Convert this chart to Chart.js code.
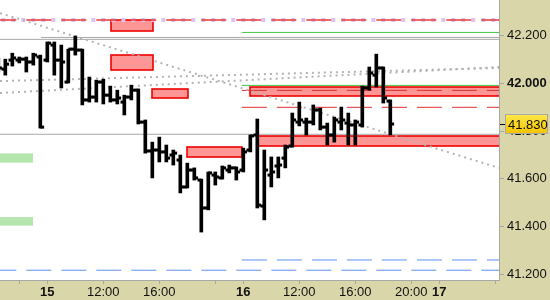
<!DOCTYPE html>
<html>
<head>
<meta charset="utf-8">
<script src="https://cdn.jsdelivr.net/npm/chart.js@4.4.1/dist/chart.umd.min.js"></script>
<style>
  html, body { margin: 0; padding: 0; background: #fff; }
</style>
</head>
<body>
<canvas id="grafico" width="550" height="300"></canvas>
<script>
// barras de 30 minutos, indice 0 = dia 15 08:00 (sesion 08:00-22:00)
const barIndex = [-7,-6,-5,-4,-3,-2,-1,0,1,2,3,4,5,6,7,8,9,10,11,12,13,14,15,16,17,18,19,20,21,22,23,24,25,26,27,28,29,30,31,32,33,34,35,36,37,38,39,40,41,42,43,44,45,46,47,48,49];
const openValues = [42.090,42.060,42.098,42.098,42.102,42.090,42.111,42.098,42.161,42.098,42.006,42.144,42.140,41.931,41.943,42.006,41.951,41.931,41.922,41.943,41.972,41.838,41.717,41.721,41.713,41.700,41.679,41.566,41.637,41.595,41.478,41.616,41.604,41.637,41.646,41.637,41.721,41.784,41.486,41.616,41.654,41.687,41.738,41.838,41.838,41.838,41.889,41.817,41.784,41.838,41.834,41.826,41.826,41.981,42.035,42.065,41.926];
const highValues = [42.107,42.102,42.127,42.111,42.111,42.127,42.119,42.174,42.174,42.161,42.144,42.199,42.144,42.027,42.014,42.018,41.989,41.972,41.951,41.993,41.977,41.847,41.754,41.775,41.742,41.721,41.700,41.666,41.646,41.599,41.629,41.629,41.654,41.658,41.650,41.729,41.784,41.851,41.721,41.692,41.692,41.742,41.876,41.922,41.855,41.910,41.897,41.834,41.859,41.901,41.876,41.847,41.989,42.069,42.123,42.069,41.931];
const lowValues = [42.048,42.035,42.073,42.086,42.048,42.077,41.813,42.090,42.035,41.981,42.002,42.119,41.910,41.922,41.922,41.914,41.922,41.914,41.868,41.931,41.830,41.708,41.604,41.671,41.671,41.658,41.541,41.562,41.595,41.377,41.470,41.574,41.599,41.625,41.595,41.629,41.713,41.478,41.428,41.566,41.604,41.646,41.733,41.822,41.784,41.826,41.805,41.742,41.754,41.805,41.742,41.742,41.817,41.972,41.985,41.918,41.784];
const closeValues = [42.065,42.081,42.107,42.102,42.090,42.119,41.817,42.169,42.098,42.090,42.144,42.140,41.931,41.943,42.006,41.951,41.931,41.939,41.943,41.972,41.838,41.717,41.721,41.713,41.687,41.708,41.566,41.637,41.604,41.478,41.625,41.608,41.646,41.646,41.629,41.713,41.780,41.490,41.637,41.629,41.658,41.733,41.847,41.847,41.838,41.889,41.817,41.784,41.847,41.847,41.826,41.838,41.981,42.044,42.065,41.939,41.830];
const lastPrice = 41.830;

// ejes
const xMin = -6.76;
const xMax = 64.53;
const xTickPositions = [-4, 0, 8, 16, 24, 28, 36, 44, 52, 56, 64];
const xTickLabels = ['', '15', '12:00', '16:00', '', '16', '12:00', '16:00', '20:00', '17', ''];
const yMin = 41.176;
const yMax = 42.350;
const yTickValues = [41.2, 41.4, 41.6, 41.8, 42.0, 42.2];

// niveles horizontales
const topLevel = 42.266;
const greyLevels = [42.193, 42.185, 41.787];
const greyStarts = [-0.9, -8, -8];
const greenLevels = [42.214, 41.992];
const redDashLevels = [41.971, 41.900];
const blueLevels = [41.217, 41.260];
const blueStarts = [-8, 27.8];
const sessionStart = 27.8;

// lineas de tendencia punteadas
const trendX = [-6.76, 64.53];
const trendA = [42.295, 41.646];
const trendB = [42.010, 42.065];
const trendC = [41.960, 42.069];

// zonas
const redZoneFrom = [9.1, 9.1, 15.0, 20.0, 29.0, 30.0];
const redZoneTo = [15.06, 15.06, 20.06, 27.8, 70, 70];
const redZoneLow = [42.221, 42.058, 41.940, 41.692, 41.949, 41.739];
const redZoneHigh = [42.266, 42.119, 41.978, 41.734, 41.984, 41.780];
const greenZoneFrom = [-8, -8];
const greenZoneTo = [-2.04, -2.04];
const greenZoneLow = [41.668, 41.404];
const greenZoneHigh = [41.707, 41.440];

const fuente = '"Liberation Sans", Arial, sans-serif';

function nivel(desde, hasta, valor, color, ancho, guiones, orden) {
  return {
    type: 'line',
    data: [{x: desde, y: valor}, {x: hasta, y: valor}],
    borderColor: color,
    borderWidth: ancho,
    borderDash: guiones,
    pointRadius: 0,
    pointHoverRadius: 0,
    fill: false,
    order: orden
  };
}

function tendencia(valores) {
  return {
    type: 'line',
    data: trendX.map((x, i) => ({x: x, y: valores[i]})),
    borderColor: '#b4b4b4',
    borderWidth: 2,
    borderDash: [2, 4],
    pointRadius: 0,
    pointHoverRadius: 0,
    fill: false,
    order: 15
  };
}

let datasets = [];

// velas OHLC: rango maximo-minimo como barra flotante, apertura y cierre como marcas
datasets.push({
  type: 'bar',
  data: barIndex.map((k, i) => ({x: k, y: [lowValues[i], highValues[i]]})),
  backgroundColor: '#000',
  borderWidth: 0,
  barThickness: 3,
  order: 2
});
datasets.push({
  type: 'line',
  showLine: false,
  data: barIndex.map((k, i) => ({x: k - 0.27, y: openValues[i]})),
  pointStyle: 'line',
  pointRadius: 1.9,
  pointHoverRadius: 1.9,
  pointBorderWidth: 3,
  pointBorderColor: '#000',
  order: 1
});
datasets.push({
  type: 'line',
  showLine: false,
  data: barIndex.map((k, i) => ({x: k + 0.27, y: closeValues[i]})),
  pointStyle: 'line',
  pointRadius: 1.9,
  pointHoverRadius: 1.9,
  pointBorderWidth: 3,
  pointBorderColor: '#000',
  order: 1
});

// niveles
datasets.push(nivel(-8, 70, topLevel, '#dcc4f2', 4, [4, 6], 21));
datasets.push(nivel(-8, 70, topLevel, '#e83a3a', 1.5, [25, 10], 20));
greyLevels.forEach((v, i) => datasets.push(nivel(greyStarts[i], 70, v, '#a8a8a8', 1, [], 18)));
greenLevels.forEach(v => datasets.push(nivel(sessionStart, 70, v, '#46c346', 1, [], 17)));
redDashLevels.forEach(v => datasets.push(nivel(sessionStart, 70, v, '#e03030', 1, [25, 10], 16)));
blueLevels.forEach((v, i) => datasets.push(nivel(blueStarts[i], 70, v, '#5f8ff0', 1, [25, 10], 16)));
[trendA, trendB, trendC].forEach(t => datasets.push(tendencia(t)));

const fondoPlugin = {
  id: 'fondo',
  beforeDraw(chart) {
    const {ctx, chartArea, width, height} = chart;
    ctx.save();
    ctx.fillStyle = '#d9d6aa';
    ctx.fillRect(0, 0, width, height);
    ctx.fillStyle = '#fff';
    ctx.fillRect(chartArea.left, chartArea.top, chartArea.width, chartArea.height);
    ctx.restore();
  }
};

const zonasPlugin = {
  id: 'zonas',
  beforeDatasetsDraw(chart) {
    const {ctx, chartArea, scales: {x, y}} = chart;
    ctx.save();
    ctx.beginPath();
    ctx.rect(chartArea.left, chartArea.top, chartArea.width, chartArea.height);
    ctx.clip();
    ctx.fillStyle = '#b5e6ae';
    greenZoneFrom.forEach((desde, i) => {
      const x1 = x.getPixelForValue(desde), x2 = x.getPixelForValue(greenZoneTo[i]);
      const y1 = y.getPixelForValue(greenZoneHigh[i]), y2 = y.getPixelForValue(greenZoneLow[i]);
      ctx.fillRect(x1, y1, x2 - x1, y2 - y1);
    });
    redZoneFrom.forEach((desde, i) => {
      const x1 = Math.round(x.getPixelForValue(desde)), x2 = Math.round(x.getPixelForValue(redZoneTo[i]));
      const y1 = Math.round(y.getPixelForValue(redZoneHigh[i])), y2 = Math.round(y.getPixelForValue(redZoneLow[i]));
      ctx.fillStyle = '#ff9696';
      ctx.fillRect(x1, y1, x2 - x1, y2 - y1);
      ctx.strokeStyle = '#ee0000';
      ctx.lineWidth = 1.6;
      ctx.strokeRect(x1, y1, x2 - x1, y2 - y1);
    });
    ctx.restore();
  }
};

const precioPlugin = {
  id: 'precio',
  afterDraw(chart) {
    const {ctx, chartArea, scales: {y}} = chart;
    const py = Math.round(y.getPixelForValue(lastPrice));
    ctx.save();
    ctx.strokeStyle = '#000';
    ctx.lineWidth = 1;
    ctx.beginPath();
    ctx.moveTo(chartArea.right + 1, py + 0.5);
    ctx.lineTo(chartArea.right + 7, py + 0.5);
    ctx.stroke();
    const bx = chartArea.right + 6, bw = 43, bh = 20, by = py - 10;
    const g = ctx.createLinearGradient(0, by, 0, by + bh);
    g.addColorStop(0, '#ffe94a');
    g.addColorStop(1, '#f5c200');
    ctx.fillStyle = g;
    ctx.fillRect(bx, by, bw, bh);
    ctx.strokeStyle = '#a8a8a8';
    ctx.strokeRect(bx + 0.5, by + 0.5, bw - 1, bh - 1);
    ctx.fillStyle = '#111';
    ctx.font = '13px ' + fuente;
    ctx.textBaseline = 'middle';
    ctx.fillText(lastPrice.toFixed(3), bx + 3, py + 1);
    ctx.restore();
  }
};

let cfg = {
  type: 'bar',
  data: { datasets: datasets },
  options: {
    responsive: false,
    animation: false,
    layout: { padding: 0, autoPadding: false },
    plugins: { legend: { display: false }, tooltip: { enabled: false } },
    scales: {
      x: {
        type: 'linear',
        min: xMin,
        max: xMax,
        offset: false,
        grid: { offset: false, drawOnChartArea: false, tickLength: 4, color: '#a8a8a8' },
        border: { color: '#a8a8a8' },
        afterBuildTicks: scale => { scale.ticks = xTickPositions.map(v => ({value: v})); },
        afterFit: scale => { scale.height = 20; scale.paddingLeft = 0; scale.paddingRight = 0; },
        ticks: {
          autoSkip: false,
          maxRotation: 0,
          padding: 1,
          color: '#111',
          font: ctx => ({ family: fuente, size: 13, weight: (xTickLabels[ctx.index] || '').length === 2 ? 'bold' : 'normal' }),
          callback: (value, index) => xTickLabels[index]
        }
      },
      y: {
        type: 'linear',
        position: 'right',
        min: yMin,
        max: yMax,
        grid: { drawOnChartArea: false, tickLength: 5, color: '#a8a8a8' },
        border: { color: '#a8a8a8' },
        afterBuildTicks: scale => { scale.ticks = yTickValues.map(v => ({value: v})); },
        afterFit: scale => { scale.width = 51; scale.paddingTop = 0; scale.paddingBottom = 0; },
        ticks: {
          padding: 3,
          color: '#111',
          font: ctx => ({ family: fuente, size: 13, weight: ctx.tick && Math.abs(ctx.tick.value - 42) < 1e-9 ? 'bold' : 'normal' }),
          callback: value => Number(value).toFixed(3)
        }
      }
    }
  },
  plugins: [fondoPlugin, zonasPlugin, precioPlugin]
};

let draw = new Chart(document.getElementById('grafico'), cfg);
</script>
</body>
</html>
